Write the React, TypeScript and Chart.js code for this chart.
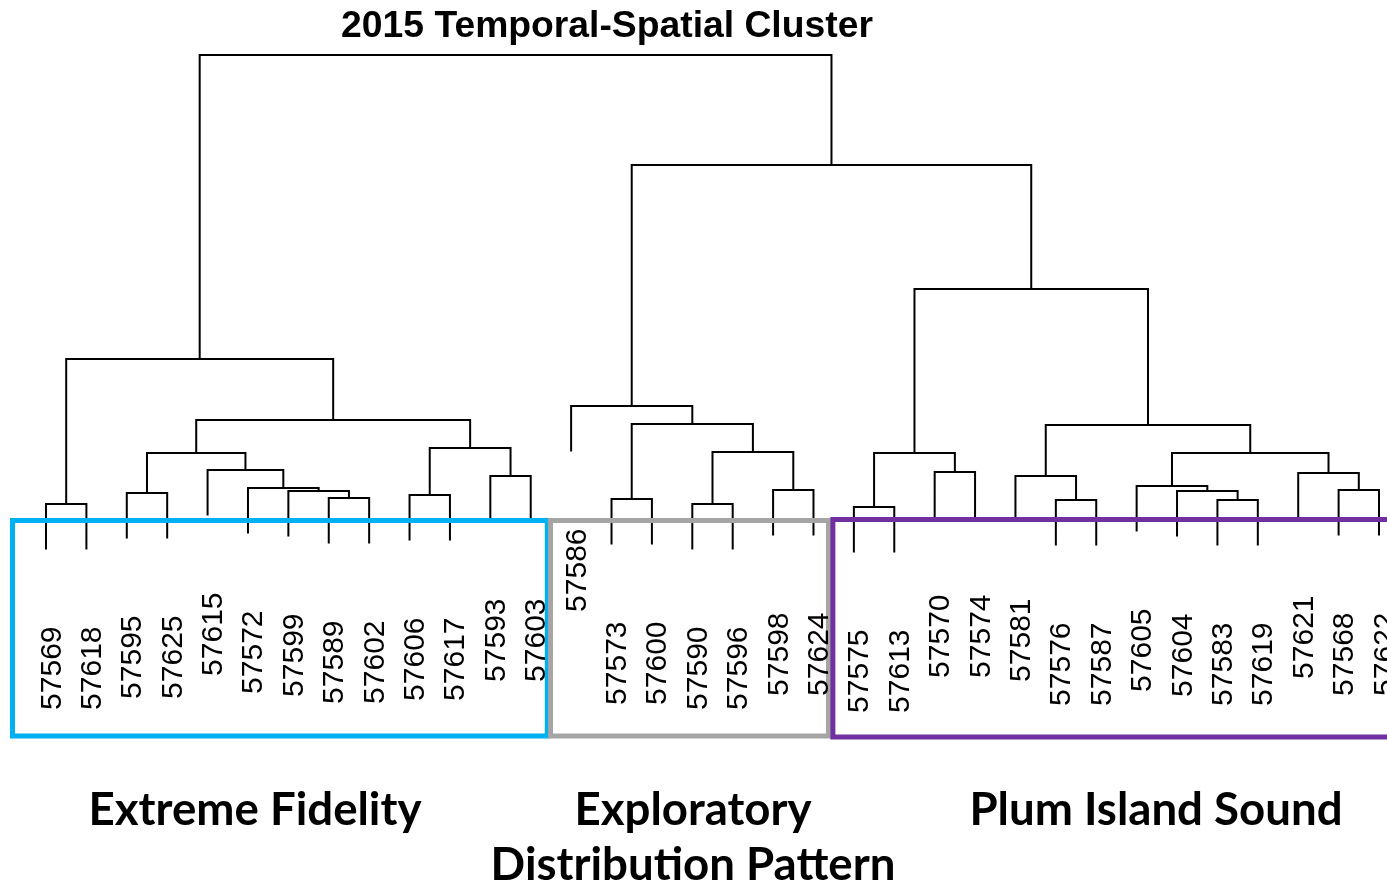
import React, { useEffect, useRef } from "react";
import { Chart, registerables } from "chart.js";

Chart.register(...registerables);

// ---------- data ----------
const titleText = "2015 Temporal-Spatial Cluster";

// leaf labels in dendrogram order (left to right)
const leafLabels = [
  "57569", "57618", "57595", "57625", "57615", "57572", "57599", "57589", "57602", "57606", "57617", "57593", "57603",
  "57586", "57573", "57600", "57590", "57596", "57598", "57624",
  "57575", "57613", "57570", "57574", "57581", "57576", "57587", "57605", "57604", "57583", "57619", "57621", "57568", "57622",
];

// hclust-style merge table: negative = leaf (1-based), positive = earlier merge row (1-based)
const mergeLeft = [-21, -1, -17, -26, -30, -15, -8, -10, -3, -7, -29, -33, -19, -6, -28, -12, -25, -32, -23, -5, 9, 1, 15, 3, 8, 17, 6, 21, -14, 2, 22, 29, 30];
const mergeRight = [-22, -2, -18, -27, -31, -16, -9, -11, -4, 7, 5, -34, -20, 10, 11, -13, 4, 12, -24, 14, 20, 19, 18, 13, 16, 23, 24, 25, 27, 28, 26, 31, 32];
const mergeHeight = [0.03, 0.06, 0.06, 0.10, 0.10, 0.11, 0.12, 0.15, 0.17, 0.19, 0.19, 0.20, 0.20, 0.22, 0.24, 0.34, 0.34, 0.37, 0.38, 0.40, 0.57, 0.57, 0.57, 0.58, 0.62, 0.85, 0.86, 0.90, 1.04, 1.51, 2.21, 3.45, 4.55];
const hangHeight = 0.455;

const groupNames = ["Extreme Fidelity", "Exploratory\nDistribution Pattern", "Plum Island Sound"];
const groupColors = ["#00B0F0", "#A5A5A5", "#7030A0"];

// ---------- helpers ----------
function buildTree() {
  const nodeX: number[] = [];
  const nodeH: number[] = [];
  const leafEnd: number[] = leafLabels.map(() => 0);
  const pts: { x: number; y: number | null }[] = [];
  for (let i = 0; i < mergeHeight.length; i++) {
    const h = mergeHeight[i];
    const child = (c: number) => {
      if (c < 0) {
        const li = -c - 1;
        leafEnd[li] = h - hangHeight;
        return { x: li, y: h - hangHeight };
      }
      return { x: nodeX[c - 1], y: nodeH[c - 1] };
    };
    const a = child(mergeLeft[i]);
    const b = child(mergeRight[i]);
    pts.push({ x: a.x, y: a.y }, { x: a.x, y: h }, { x: b.x, y: h }, { x: b.x, y: b.y }, { x: b.x, y: null });
    nodeX[i] = (a.x + b.x) / 2;
    nodeH[i] = h;
  }
  return { pts, leafEnd };
}

export default function App() {
  const ref = useRef<HTMLCanvasElement | null>(null);

  useEffect(() => {
    if (!ref.current) return;
    const { pts, leafEnd } = buildTree();

    const decor = {
      id: "dendroDecor",
      afterDatasetsDraw(chart: any) {
        const ctx = chart.ctx as CanvasRenderingContext2D;
        const xs = chart.scales.x;
        const ys = chart.scales.y;
        ctx.save();

        // group boxes
        const boxTop = 520.5;
        const boxBottom = 736;
        const bounds = [
          [xs.getPixelForValue(-0.83), xs.getPixelForValue(12.41)],
          [xs.getPixelForValue(12.49), xs.getPixelForValue(19.37)],
          [xs.getPixelForValue(19.48), xs.getPixelForValue(34.5)],
        ];
        ctx.lineWidth = 5;
        ctx.lineJoin = "miter";
        bounds.forEach(([l, r], gi) => {
          ctx.strokeStyle = groupColors[gi];
          ctx.strokeRect(l, gi === 2 ? boxTop - 1 : boxTop, r - l, boxBottom - boxTop + (gi === 2 ? 2 : 0));
        });

        // leaf labels
        ctx.fillStyle = "#000";
        ctx.font = '30px "Liberation Sans", Arial, sans-serif';
        ctx.textAlign = "right";
        ctx.textBaseline = "alphabetic";
        leafLabels.forEach((lab, i) => {
          const px = xs.getPixelForValue(i);
          const py = ys.getPixelForValue(leafEnd[i]) + 77;
          ctx.save();
          ctx.translate(px + 14.5, py);
          ctx.rotate(-Math.PI / 2);
          ctx.fillText(lab, 0, 0);
          ctx.restore();
        });

        // group names
        ctx.fillStyle = "#000";
        ctx.textAlign = "center";
        ctx.textBaseline = "alphabetic";
        ctx.font = 'bold 100px Lato, "Open Sans", sans-serif';
        const w = ctx.measureText(groupNames[0]).width;
        const fs = (100 * 333) / w;
        ctx.font = `bold ${fs}px Lato, "Open Sans", sans-serif`;
        const centers = [255, 693, 1156];
        groupNames.forEach((name, gi) => {
          const lines = name.split("\n");
          lines.forEach((ln, li) => {
            ctx.fillText(ln, centers[gi], 825 + li * 55);
          });
        });

        // title
        ctx.font = 'bold 100px "Liberation Sans", Arial, sans-serif';
        const tw = ctx.measureText(titleText).width;
        const tfs = (100 * 532) / tw;
        ctx.font = `bold ${tfs}px "Liberation Sans", Arial, sans-serif`;
        ctx.fillText(titleText, 607, 37);

        ctx.restore();
      },
    };

    const chart = new Chart(ref.current, {
      type: "line",
      data: {
        datasets: [
          {
            data: pts as any,
            borderColor: "#000",
            borderWidth: 2,
            pointRadius: 0,
            tension: 0,
            spanGaps: false,
            fill: false,
          },
        ],
      },
      options: {
        animation: false,
        responsive: true,
        maintainAspectRatio: false,
        layout: { padding: 0 },
        plugins: { legend: { display: false }, tooltip: { enabled: false }, title: { display: false } },
        scales: {
          x: { type: "linear", display: false, min: -1.1388, max: 33.198 },
          y: { type: "linear", display: false, min: -3.77, max: 5.10 },
        },
      },
      plugins: [decor],
    });
    return () => chart.destroy();
  }, []);

  return (
    <div style={{ position: "fixed", left: 0, top: 0, width: 1387, height: 887, background: "#fff" }}>
      <canvas ref={ref} />
    </div>
  );
}
